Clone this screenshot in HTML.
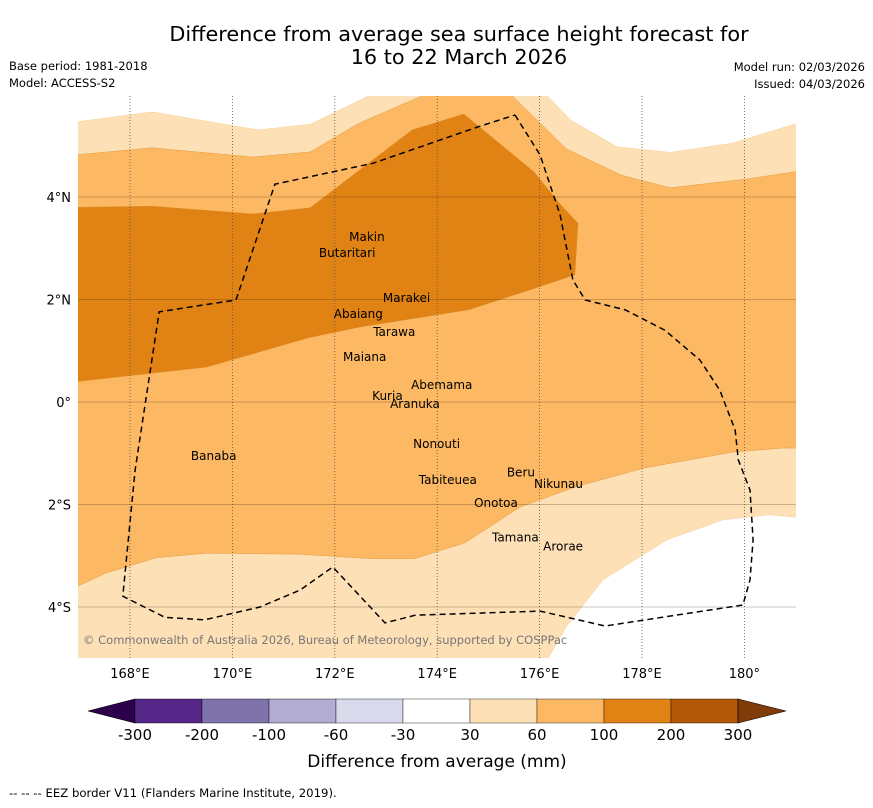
<!DOCTYPE html>
<html><head><meta charset="utf-8"><style>
body{margin:0;background:#fff;width:873px;height:804px;overflow:hidden;font-family:"DejaVu Sans","Liberation Sans",sans-serif}
</style></head><body>
<svg width="873" height="804" xmlns="http://www.w3.org/2000/svg" font-family="DejaVu Sans, Liberation Sans, sans-serif">
<text x="459" y="41" font-size="20.8" text-anchor="middle">Difference from average sea surface height forecast for</text>
<text x="459" y="64" font-size="20.8" text-anchor="middle">16 to 22 March 2026</text>
<text x="9" y="70" font-size="11.5">Base period: 1981-2018</text>
<text x="9" y="87" font-size="11.5">Model: ACCESS-S2</text>
<text x="865" y="71" font-size="11.5" text-anchor="end">Model run: 02/03/2026</text>
<text x="865" y="88" font-size="11.5" text-anchor="end">Issued: 04/03/2026</text>
<defs><clipPath id="pc"><rect x="78" y="96" width="718" height="562"/></clipPath></defs>
<g id="plot" clip-path="url(#pc)"></g>
<g id="axes"></g>
<text x="83" y="644" font-size="11.5" fill="#777">© Commonwealth of Australia 2026, Bureau of Meteorology, supported by COSPPac</text>
<g id="cbar"></g>
<text x="437" y="767" font-size="17" text-anchor="middle">Difference from average (mm)</text>
<text x="9" y="797" font-size="11.7">--  --  -- EEZ border V11 (Flanders Marine Institute, 2019).</text>
</svg>
<script>
const lonTicks=[168,170,172,174,176,178,180];
const lonLabels=["168°E","170°E","172°E","174°E","176°E","178°E","180°"];
const latTicks=[4,2,0,-2,-4];
const latLabels=["4°N","2°N","0°","2°S","4°S"];
const whiteTopLeft=[[166.9,5.46],[168.43,5.66],[170.5,5.31],[171.52,5.42],[172.92,6.1],[166.9,6.1]];
const whiteTopRight=[[176.03,6.1],[176.61,5.5],[177.51,4.98],[178.55,4.87],[179.76,5.05],[181.1,5.46],[181.1,6.1]];
const whiteBottomRight=[[176.11,-5.1],[176.52,-4.39],[177.24,-3.47],[178.49,-2.69],[179.58,-2.3],[180.48,-2.2],[181.1,-2.26],[181.1,-5.1]];
const band60to100=[[166.9,4.82],[168.43,4.96],[170.4,4.78],[171.52,4.88],[172.47,5.44],[174.0,6.1],[175.34,6.1],[176.52,4.94],[177.59,4.43],[178.55,4.18],[180.03,4.35],[181.1,4.51],[181.1,-0.9],[180.73,-0.9],[179.76,-0.98],[178.04,-1.29],[176.69,-1.66],[175.62,-2.05],[174.54,-2.75],[173.55,-3.06],[172.75,-3.06],[171.3,-2.97],[169.5,-2.95],[168.51,-3.04],[167.53,-3.34],[166.9,-3.63]];
const band100to200=[[166.9,3.8],[168.43,3.82],[170.4,3.67],[171.52,3.79],[173.51,5.31],[174.52,5.62],[175.89,4.49],[176.42,3.84],[176.75,3.49],[176.69,2.48],[175.97,2.24],[174.62,1.8],[172.47,1.46],[171.48,1.25],[169.5,0.68],[166.9,0.39]];
const eez=[[175.52,5.6],[176.01,4.82],[176.4,3.65],[176.65,2.38],[176.89,1.99],[177.67,1.8],[178.45,1.4],[179.13,0.82],[179.52,0.23],[179.82,-0.55],[179.88,-1.13],[180.11,-1.72],[180.17,-2.69],[180.11,-3.47],[179.97,-3.96],[177.28,-4.37],[176.01,-4.08],[173.57,-4.16],[172.98,-4.31],[171.96,-3.22],[171.32,-3.67],[170.54,-4.0],[169.46,-4.25],[168.68,-4.2],[167.86,-3.79],[168.1,-1.33],[168.57,1.76],[170.07,1.99],[170.83,4.25],[172.75,4.66],[174.8,5.37],[175.52,5.6]];
const islandNames=["Makin","Butaritari","Marakei","Abaiang","Tarawa","Maiana","Abemama","Kuria","Aranuka","Banaba","Nonouti","Tabiteuea","Beru","Nikunau","Onotoa","Tamana","Arorae"];
const islandLon=[172.28,171.69,172.94,171.98,172.75,172.16,173.49,172.73,173.08,169.19,173.53,173.64,175.36,175.89,174.72,175.07,176.07];
const islandLat=[3.22,2.91,2.03,1.72,1.37,0.88,0.33,0.12,-0.04,-1.05,-0.82,-1.52,-1.38,-1.6,-1.97,-2.64,-2.82];
const cbLevels=["-300","-200","-100","-60","-30","30","60","100","200","300"];
const cbColors=["#542788","#8073ac","#b2abd2","#d8daeb","#ffffff","#fee0b6","#fdb863","#e08214","#b35806"];
const cbLowColor="#2d004b", cbHighColor="#7f3b08";
const NS="http://www.w3.org/2000/svg";
const X=lon=>130+(lon-168)*51.2, Y=lat=>402-lat*51.25;
function mk(tag,attrs,parent,txt){const e=document.createElementNS(NS,tag);for(const k in attrs)e.setAttribute(k,attrs[k]);if(txt!==undefined)e.textContent=txt;parent.appendChild(e);return e;}
const plot=document.getElementById('plot'), axes=document.getElementById('axes'), cbar=document.getElementById('cbar');
const pts=a=>a.map(p=>X(p[0]).toFixed(1)+','+Y(p[1]).toFixed(1)).join(' ');
let bg=mk('rect',{x:78,y:96,width:718,height:562,fill:'#fee0b6'},plot);


[[whiteTopLeft,'#ffffff','below-30-top-left'],[whiteTopRight,'#ffffff','below-30-top-right'],[whiteBottomRight,'#ffffff','below-30-bottom-right'],[band60to100,'#fdb863','band-60-to-100'],[band100to200,'#e08214','band-100-to-200']].forEach(d=>{
 const p=mk('polygon',{points:pts(d[0]),fill:d[1],stroke:d[1]==='#ffffff'?'#f5c88c':'#d9902f','stroke-width':0.4},plot);
 
 
});
lonTicks.forEach((t,i)=>{
 const l=mk('line',{x1:X(t),x2:X(t),y1:96,y2:658,stroke:'#555','stroke-width':0.8,'stroke-dasharray':'1,2'},plot);
 
 
 const tx=mk('text',{x:X(t),y:678,'font-size':13,'text-anchor':'middle'},axes,lonLabels[i]);
 
 
});
latTicks.forEach((t,i)=>{
 const l=mk('line',{x1:78,x2:796,y1:Y(t),y2:Y(t),stroke:'rgba(60,40,20,0.35)','stroke-width':0.8},plot);
 
 
 const tx=mk('text',{x:71,y:Y(t)+5,'font-size':13,'text-anchor':'end'},axes,latLabels[i]);
 
 
});
const e=mk('polyline',{points:pts(eez),fill:'none',stroke:'#000','stroke-width':1.5,'stroke-dasharray':'6,4'},plot);


islandNames.forEach((n,i)=>{
 const tx=mk('text',{x:X(islandLon[i]),y:Y(islandLat[i])+4,'font-size':12},plot,n);
 
 
});
const cx0=135,cw=67,cy=699,ch=24;
const lt=mk('polygon',{points:`${cx0},${cy} ${cx0},${cy+ch} 88,${cy+ch/2}`,fill:cbLowColor,stroke:'#000','stroke-width':0.6},cbar);


cbColors.forEach((c,i)=>{
 const r=mk('rect',{x:cx0+i*cw,y:cy,width:cw,height:ch,fill:c,stroke:'#000','stroke-width':0.4},cbar);
 
 
});
const xe=cx0+cbColors.length*cw;
const ht=mk('polygon',{points:`${xe},${cy} ${xe},${cy+ch} 786,${cy+ch/2}`,fill:cbHighColor,stroke:'#000','stroke-width':0.6},cbar);


cbLevels.forEach((v,i)=>{
 const tx=mk('text',{x:cx0+i*cw,y:740,'font-size':15,'text-anchor':'middle'},cbar,v);
 
 
});
</script>
</body></html>
